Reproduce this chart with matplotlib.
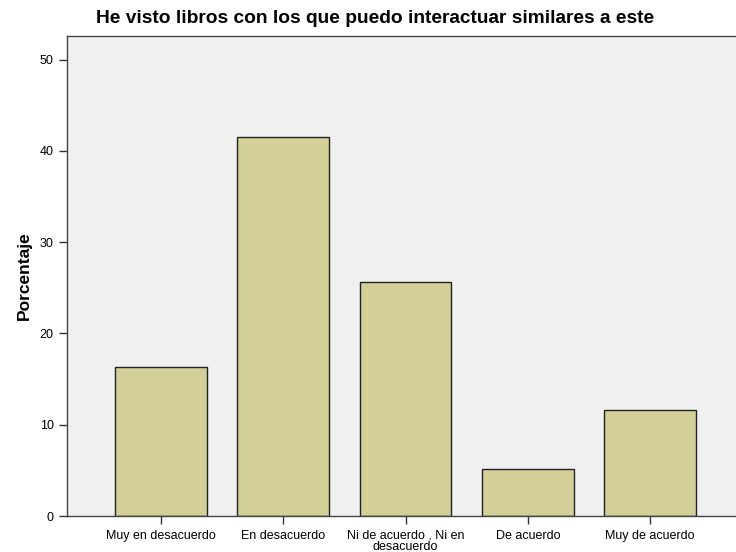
import matplotlib.pyplot as plt

categories = ["Muy en desacuerdo", "En desacuerdo", "Ni de acuerdo , Ni en\ndesacuerdo",
              "De acuerdo", "Muy de acuerdo"]
percentages = [16.3, 41.5, 25.6, 5.1, 11.6]
y_ticks = [0, 10, 20, 30, 40, 50]

plt.rcParams["font.family"] = ["Liberation Sans", "DejaVu Sans"]

fig = plt.figure(figsize=(7.36, 5.52), dpi=100)
ax = fig.add_axes([0.091, 0.0652, 0.95, 0.8696])
ax.set_facecolor("#f0f0f0")

x = range(len(categories))
ax.bar(x, percentages, width=0.75, color="#d3cf98", edgecolor="#222222", linewidth=1.0)

ax.set_xlim(-0.77, 4.95)
ax.set_ylim(0, 52.6)
ax.set_yticks(y_ticks)
ax.set_xticks(list(x))
ax.set_xticklabels(categories, linespacing=0.92)
ax.tick_params(axis="both", direction="out", length=6, width=1, color="#333333", labelsize=9)
ax.tick_params(axis="x", pad=4, labelsize=9)

for side in ["left", "bottom", "top", "right"]:
    ax.spines[side].set_color("#444444")
    ax.spines[side].set_linewidth(1.0)

ax.set_ylabel("Porcentaje", fontsize=12.5, fontweight="bold", labelpad=6)
fig.text(0.510, 0.967, "He visto libros con los que puedo interactuar similares a este",
         ha="center", va="center", fontsize=13.8, fontweight="bold")

fig.savefig("out.png", dpi=100)
